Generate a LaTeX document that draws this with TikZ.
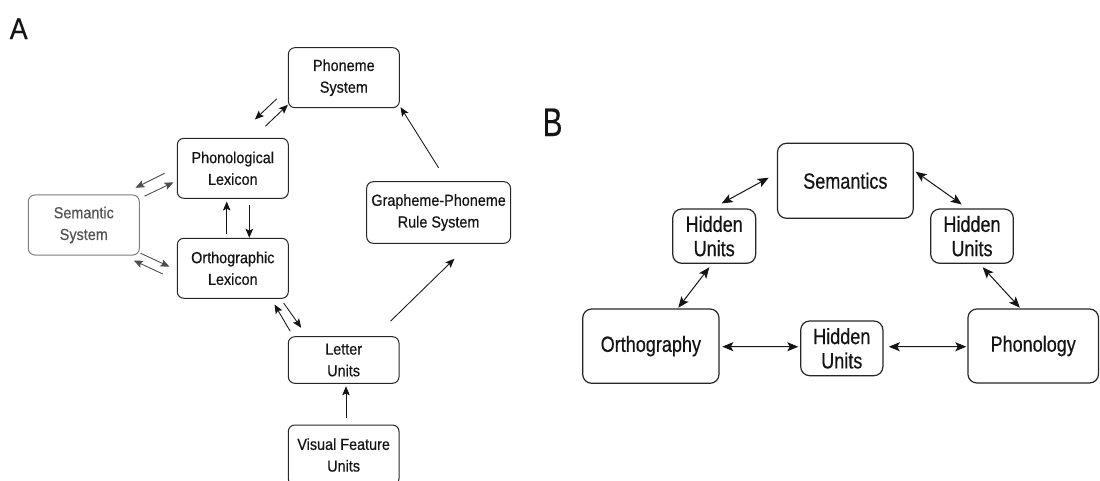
\documentclass[tikz,border=0pt]{standalone}
\usepackage{fontspec}
\setmainfont{Liberation Sans}
\newfontfamily\condA{Liberation Sans}[FakeStretch=0.9,FakeBold=0.5]
\newfontfamily\condB{Liberation Sans}[FakeStretch=0.82,FakeBold=0.5]
\newfontfamily\condC{Liberation Sans}[FakeStretch=0.74,FakeBold=0.4]
\newfontfamily\condL{Liberation Sans}[FakeStretch=0.9,FakeBold=0.4]
\usetikzlibrary{arrows.meta}
\definecolor{ink}{HTML}{141414}
\definecolor{boxline}{HTML}{262626}
\definecolor{greyline}{HTML}{7E7E7E}
\definecolor{greytext}{HTML}{525252}
\definecolor{greyarrow}{HTML}{4E4E4E}

\begin{document}
\begin{tikzpicture}[x=1pt,y=-1pt,
  abox/.style={draw=boxline, line width=1pt, rounded corners=6.5pt, inner sep=0pt,
    align=center, text=ink, font=\condA\fontsize{16}{21.7}\selectfont},
  greybox/.style={abox, draw=greyline, text=greytext},
  bbox/.style={draw=boxline, line width=1.2pt, rounded corners=9pt, inner sep=0pt,
    align=center, text=ink, font=\condB\fontsize{22}{24.3}\selectfont},
  aarrow/.style={draw=ink, line width=0.85pt, -{Stealth[length=9pt,width=7.5pt,inset=1.8pt]}},
  garrow/.style={aarrow, draw=greyarrow, fill=greyarrow},
  barrow/.style={draw=ink, line width=1pt, {Stealth[length=11pt,width=9pt,inset=2.5pt]}-{Stealth[length=11pt,width=9pt,inset=2.5pt]}},
  panel/.style={inner sep=0pt, anchor=north west, text=ink}
]
\useasboundingbox (0,0) rectangle (1100,481);

% panel letters
\node[panel, font=\condL\fontsize{30}{30}\selectfont] (labA) at (9.5,18.3) {A};
\node[panel, font=\condC\fontsize{40}{40}\selectfont] (labB) at (542.5,108.3) {B};

% ---------- panel A : dual-route model ----------
\node[abox, minimum width=110.9pt, minimum height=60pt] (phon) at (343.85,77.7) {Phoneme\\System};
\node[abox, minimum width=111pt, minimum height=60pt] (plex) at (232.8,168.3) {Phonological\\Lexicon};
\node[greybox, minimum width=111pt, minimum height=60pt] (sem) at (83.8,225) {Semantic\\System};
\node[abox, minimum width=143.8pt, minimum height=61.6pt] (gpr) at (438.6,212.5) {Grapheme-Phoneme\\Rule System};
\node[abox, minimum width=111pt, minimum height=60pt] (olex) at (232.8,268.3) {Orthographic\\Lexicon};
\node[abox, minimum width=110.7pt, minimum height=46.6pt] (letter) at (343.65,360) {Letter\\Units};
\node[abox, minimum width=110.7pt, minimum height=60pt] (visual) at (343.65,455) {Visual Feature\\Units};

% phoneme system <-> phonological lexicon
\draw[aarrow] ([shift={(-11.2,-9.4)}]phon.south west) -- ([shift={(-33.9,-18.3)}]plex.north east);
\draw[aarrow] ([shift={(-23.4,-11.6)}]plex.north east) -- ([shift={(0,-3.4)}]phon.south west);
% phonological lexicon <-> semantic system
\draw[garrow] ([shift={(-12.3,5)}]plex.west) -- ([shift={(-4.3,-6.7)}]sem.north east);
\draw[garrow] ([shift={(4.7,1.7)}]sem.north east) -- ([shift={(-3.3,14)}]plex.west);
% orthographic lexicon <-> phonological lexicon
\draw[aarrow] ([shift={(-6.1,-4)}]olex.north) -- ([shift={(-6.1,2.7)}]plex.south);
\draw[aarrow] ([shift={(16.5,6.7)}]plex.south) -- ([shift={(16.5,0)}]olex.north);
% semantic system <-> orthographic lexicon
\draw[garrow] ([shift={(0.7,-2.3)}]sem.south east) -- ([shift={(-7.3,-1.6)}]olex.west);
\draw[garrow] ([shift={(-14,5.7)}]olex.west) -- ([shift={(-6,5)}]sem.south east);
% orthographic lexicon <-> letter units
\draw[aarrow] ([shift={(-5,4.4)}]olex.south east) -- ([shift={(13.4,-8.4)}]letter.north west);
\draw[aarrow] ([shift={(2.4,-5)}]letter.north west) -- ([shift={(-14.3,5.7)}]olex.south east);
% sublexical route
\draw[aarrow] ([shift={(-9,-15)}]letter.north east) -- ([shift={(15.8,15)}]gpr.south);
\draw[aarrow] ([shift={(0,-13.4)}]gpr.north) -- ([shift={(0.7,-1)}]phon.south east);
% visual features -> letters
\draw[aarrow] ([shift={(2.35,-6.7)}]visual.north) -- ([shift={(2.35,2.4)}]letter.south);

% ---------- panel B : triangle model ----------
\node[bbox, minimum width=135.7pt, minimum height=75pt] (semb) at (845.35,180.8) {Semantics};
\node[bbox, minimum width=83pt, minimum height=54.3pt] (hl) at (714.2,236.15) {Hidden\\Units};
\node[bbox, minimum width=82.6pt, minimum height=54.3pt] (hr) at (972,236.15) {Hidden\\Units};
\node[bbox, minimum width=136.3pt, minimum height=74.3pt] (orth) at (650.85,346.15) {Orthography};
\node[bbox, minimum width=82.2pt, minimum height=54.7pt] (hm) at (841.8,348.35) {Hidden\\Units};
\node[bbox, minimum width=130.6pt, minimum height=74pt] (phonb) at (1033.2,346) {Phonology};

\draw[barrow] ([shift={(-8.2,-3.1)}]semb.west) -- ([shift={(7.5,-5)}]hl.north);
\draw[barrow] ([shift={(-4.9,3.4)}]hl.south) -- ([shift={(27.45,-0.7)}]orth.north);
\draw[barrow] ([shift={(2.7,0.5)}]orth.east) -- ([shift={(-1.8,-1.6)}]hm.west);
\draw[barrow] ([shift={(5.3,-1.6)}]hm.east) -- ([shift={(-1,0.7)}]phonb.west);
\draw[barrow] ([shift={(1.8,-9.1)}]semb.east) -- ([shift={(-10.3,-4)}]hr.north);
\draw[barrow] ([shift={(10.7,3.4)}]hr.south) -- ([shift={(-13.35,-0.7)}]phonb.north);
\end{tikzpicture}
\end{document}
